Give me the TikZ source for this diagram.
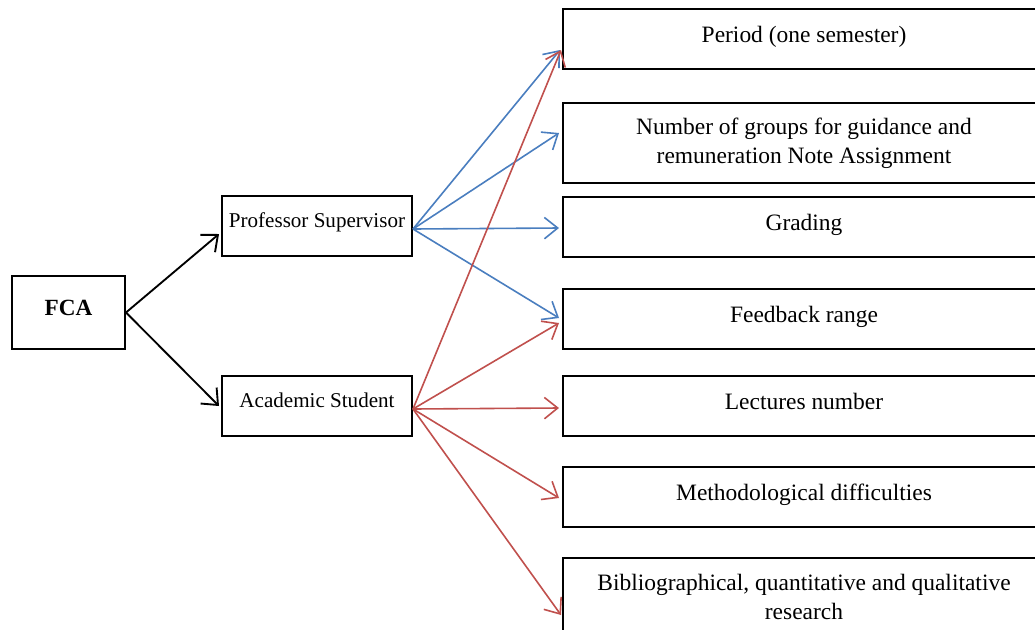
\documentclass[tikz,border=0pt]{standalone}
\usepackage{fontspec}
\setmainfont{Liberation Serif}
\usetikzlibrary{arrows.meta,calc}
\definecolor{arrblue}{HTML}{4A7EBF}
\definecolor{arrred}{HTML}{C0504D}
\begin{document}
\begin{tikzpicture}[x=0.75pt,y=-0.75pt,
  box/.style={draw=black,line width=1.5pt,inner sep=2pt,align=center},
  leftbox/.style={box,minimum width=142.5pt,minimum height=45pt,font=\fontsize{15.8}{19}\selectfont,
    text height=11pt,text depth=9.5pt},
  rightbox/.style={box,minimum width=361.5pt,minimum height=45pt,font=\fontsize{17.6}{21.8}\selectfont},
  oneline/.style={rightbox,text height=12.5pt,text depth=7.5pt},
  link/.style={line width=1.2pt,-{Straight Barb[length=10pt,width=16pt,line width=1.2pt]}},
  blk/.style={link,black,line width=1.4pt,-{Straight Barb[length=10pt,width=17pt,line width=1.4pt]}},
  blu/.style={link,arrblue},
  rd/.style={link,arrred}]
\useasboundingbox (0,0) rectangle (1035,629);
\clip (0,0) rectangle (1035,629);

% root
\node[box,minimum width=84.75pt,minimum height=54.75pt,font=\fontsize{17.4}{20}\selectfont\bfseries,
  text height=12pt,text depth=6.8pt] (fca) at (68.5,312.5) {FCA};

% middle level
\node[leftbox] (prof) at (317,226) {Professor Supervisor};
\node[leftbox] (acad) at (317,406) {Academic Student};

% right column
\node[oneline] (period) at (804,39) {Period (one semester)};
\node[rightbox,minimum height=60pt] (groups) at (804,143) {Number of groups for guidance and\\remuneration Note Assignment};
\node[oneline] (grading) at (804,227) {Grading};
\node[oneline] (feedback) at (804,319) {Feedback range};
\node[oneline] (lectures) at (804,406) {Lectures number};
\node[oneline] (method) at (804,497) {Methodological difficulties};
\node[rightbox,minimum height=58.5pt] (biblio) at (804,597) {Bibliographical, quantitative and qualitative\\research};

% root to middle level
\draw[blk] (fca.east) -- ($(prof.west)+(-2,8)$);
\draw[blk] (fca.east) -- ($(acad.west)+(-2,0)$);

% supervisor links
\coordinate (ps) at ($(prof.east)+(0,3)$);
\draw[blu] (ps) -- ($(period.west)+(-2,11)$);
\draw[blu] (ps) -- ($(groups.west)+(-3,-10)$);
\draw[blu] (ps) -- ($(grading.west)+(-3,1)$);
\draw[blu] (ps) -- ($(feedback.west)+(-3,-1)$);

% student links
\coordinate (as) at ($(acad.east)+(0,3)$);
\draw[rd] (as) -- ($(period.west)+(-1,11)$);
\draw[rd] (as) -- ($(feedback.west)+(-3,4)$);
\draw[rd] (as) -- ($(lectures.west)+(-3,2)$);
\draw[rd] (as) -- ($(method.west)+(-3,1)$);
\draw[rd] (as) -- ($(biblio.west)+(-1,18)$);
\end{tikzpicture}
\end{document}
